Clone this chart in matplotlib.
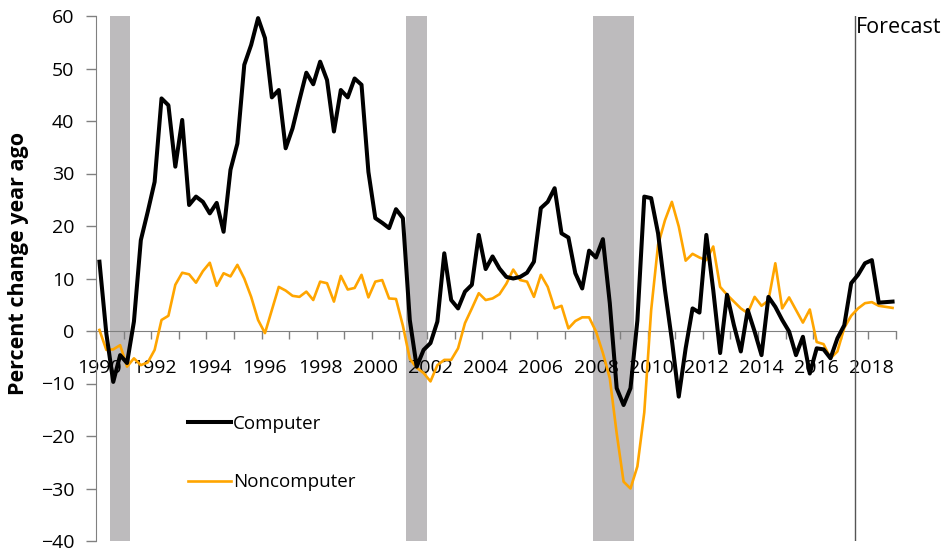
import numpy as np
import matplotlib
matplotlib.use("Agg")
import matplotlib.pyplot as plt

plt.rcParams["font.family"] = ["Open Sans", "DejaVu Sans"]

# quarterly data 1990Q1 - 2018Q4, percent change year ago
computer = [
    13.2, -0.5, -9.7, -4.6,
    -6.1, 1.8, 17.3, 22.7,
    28.4, 44.3, 43.0, 31.3,
    40.2, 24.0, 25.6, 24.6,
    22.4, 24.4, 18.9, 30.7,
    35.7, 50.7, 54.5, 59.6,
    55.8, 44.5, 45.9, 34.8,
    38.6, 44.0, 49.2, 47.0,
    51.3, 47.8, 38.0, 45.9,
    44.5, 48.1, 46.9, 30.3,
    21.5, 20.6, 19.6, 23.2,
    21.5, 2.1, -6.8, -3.6,
    -2.3, 1.8, 14.8, 5.9,
    4.3, 7.5, 8.8, 18.3,
    11.8, 14.2, 11.9, 10.3,
    10.0, 10.3, 11.1, 13.2,
    23.4, 24.6, 27.2, 18.6,
    17.8, 11.0, 8.1, 15.3,
    14.0, 17.5, 5.3, -10.9,
    -14.1, -10.9, 2.0, 25.6,
    25.3, 18.6, 7.8, -1.7,
    -12.5, -3.3, 4.3, 3.5,
    18.3, 7.8, -4.2, 6.9,
    1.1, -3.9, 4.0, -0.1,
    -4.6, 6.5, 4.6, 2.1,
    -0.1, -4.6, -1.1, -8.1,
    -3.3, -3.5, -5.2, -1.4,
    1.1, 9.1, 10.7, 12.9,
    13.5, 5.4, 5.5, 5.6,
]
noncomputer = [
    0.2, -3.6, -3.5, -2.7,
    -6.8, -5.2, -6.5, -6.0,
    -3.6, 2.1, 2.9, 8.8,
    11.1, 10.8, 9.2, 11.4,
    13.0, 8.6, 11.0, 10.4,
    12.6, 10.0, 6.5, 2.1,
    -0.4, 4.0, 8.4, 7.7,
    6.7, 6.5, 7.5, 5.9,
    9.4, 9.1, 5.6, 10.5,
    7.9, 8.2, 10.7, 6.4,
    9.4, 9.7, 6.2, 6.1,
    1.0, -5.3, -7.0, -8.0,
    -9.6, -6.5, -5.5, -5.5,
    -3.3, 1.5, 4.3, 7.2,
    5.9, 6.2, 7.0, 9.0,
    11.7, 9.7, 9.4, 6.5,
    10.7, 8.4, 4.3, 4.8,
    0.5, 1.9, 2.6, 2.6,
    -0.1, -4.2, -9.0, -19.5,
    -28.7, -30.0, -25.8, -15.5,
    4.0, 16.4, 21.1, 24.6,
    19.9, 13.4, 14.7, 14.0,
    13.5, 16.1, 8.4, 6.9,
    5.6, 4.3, 3.4, 6.5,
    4.8, 5.8, 12.9, 4.3,
    6.4, 4.0, 1.6, 4.1,
    -2.1, -2.5, -5.2, -3.9,
    0.6, 2.9, 4.3, 5.3,
    5.5, 4.8, 4.6, 4.4,
]
recessions = [(1990.5, 1991.25), (2001.25, 2002.0), (2008.0, 2009.5)]
forecast_start = 2017.5
year_labels = list(range(1990, 2019, 2))

n = len(computer)
x = 1990 + (np.arange(n) + 0.5) / 4

fig = plt.figure(figsize=(9.48, 5.5), dpi=100)
ax = fig.add_axes([96 / 948, 1 - 541 / 550, 800 / 948, 525 / 550])

for a, b in recessions:
    ax.axvspan(a, b, color="#bdbbbd", lw=0, zorder=0)

ax.plot(x, noncomputer, color="#ffa500", lw=1.9, label="Noncomputer", zorder=3)
ax.plot(x, computer, color="black", lw=2.9, label="Computer", zorder=4)

ax.axvline(forecast_start, color="#555555", lw=1, zorder=2)
ax.text(forecast_start + 0.04, 59.8, "Forecast", fontsize=15.5, va="top", ha="left")

ax.set_xlim(1990, 2019)
ax.set_ylim(-40, 60)
ax.set_yticks(range(-40, 61, 10))
ax.tick_params(axis="y", length=7, width=1, color="#808080", pad=8.5, labelsize=14)

# year tick marks at boundaries, labels centred on first quarter
ax.set_xticks(np.arange(1990, 2020), minor=True)
ax.set_xticks([y + 0.125 for y in year_labels])
ax.set_xticklabels([str(y) for y in year_labels])
ax.tick_params(axis="x", which="major", length=0, pad=20, labelsize=14)
ax.tick_params(axis="x", which="minor", length=6, width=1, color="#808080")

ax.spines["top"].set_visible(False)
ax.spines["right"].set_visible(False)
ax.spines["left"].set_color("#808080")
ax.spines["bottom"].set_color("#808080")
ax.spines["bottom"].set_position(("data", 0))

ax.set_ylabel("Percent change year ago", fontsize=15.5, fontweight="bold")
ax.yaxis.set_label_coords(-0.084, 0.528)

handles, labels = ax.get_legend_handles_labels()
ax.legend(handles[::-1], labels[::-1], loc="center left",
          bbox_to_anchor=(188 / 948, 1 - 453 / 550), bbox_transform=fig.transFigure,
          frameon=False, fontsize=13.5, handlelength=2.3, handletextpad=0.1,
          labelspacing=2.15, borderpad=0, borderaxespad=0)

fig.savefig("out.png", dpi=100)
